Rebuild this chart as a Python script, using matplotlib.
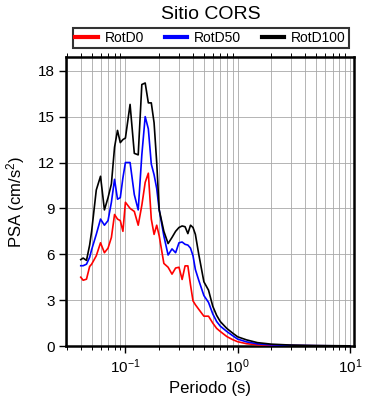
"""Response spectra (RotD0 / RotD50 / RotD100) for site CORS."""
import matplotlib
matplotlib.use('Agg')
import matplotlib.pyplot as plt
from matplotlib.ticker import LogLocator, MultipleLocator, NullFormatter

plt.rcParams['font.family'] = ['Liberation Sans', 'DejaVu Sans']
plt.rcParams['mathtext.fontset'] = 'custom'
plt.rcParams['mathtext.rm'] = 'Liberation Sans'
plt.rcParams['mathtext.it'] = 'Liberation Sans'

# periods (s)
periods = [0.04, 0.042, 0.045, 0.048, 0.05, 0.055, 0.06, 0.065, 0.07, 0.075,
           0.08, 0.085, 0.09, 0.095, 0.1, 0.11, 0.12, 0.13, 0.14, 0.15,
           0.16, 0.17, 0.18, 0.19, 0.2, 0.22, 0.24, 0.26, 0.28, 0.3,
           0.32, 0.34, 0.36, 0.38, 0.4, 0.42, 0.45, 0.5, 0.55, 0.6,
           0.65, 0.7, 0.8, 0.9, 1.0, 1.2, 1.5, 2.0, 3.0, 4.0,
           5.0, 7.0, 10.0]

rotd0 = [4.5, 4.3, 4.37, 5.2, 5.35, 5.9, 6.75, 6.1, 6.4, 7.1,
         8.6, 8.3, 8.2, 7.5, 9.4, 9.0, 8.8, 7.9, 9.2, 10.7,
         11.3, 8.3, 7.3, 7.9, 7.2, 5.4, 5.15, 4.7, 5.1, 5.15,
         4.35, 5.24, 5.24, 4.0, 2.95, 2.7, 2.4, 1.95, 1.95, 1.5,
         1.15, 0.95, 0.62, 0.42, 0.28, 0.15, 0.08, 0.05, 0.03, 0.02,
         0.015, 0.01, 0.005]

rotd50 = [5.25, 5.25, 5.35, 5.8, 6.3, 7.3, 8.3, 7.9, 8.2, 9.4,
          10.9, 9.6, 9.7, 11.0, 12.0, 12.0, 9.9, 8.9, 12.5, 15.0,
          14.2, 11.9, 11.2, 10.3, 8.9, 7.2, 5.95, 6.35, 6.1, 6.75,
          6.8, 6.65, 6.6, 6.4, 5.9, 5.0, 4.3, 3.3, 2.85, 2.1,
          1.6, 1.3, 0.95, 0.68, 0.45, 0.27, 0.14, 0.07, 0.04, 0.03,
          0.02, 0.012, 0.008]

rotd100 = [5.65, 5.75, 5.6, 6.6, 7.5, 10.2, 11.1, 8.9, 9.7, 10.6,
           13.0, 14.1, 13.3, 13.5, 13.6, 15.8, 12.6, 12.5, 17.1, 17.2,
           15.9, 15.9, 14.6, 12.0, 8.9, 7.5, 6.7, 7.1, 7.5, 7.75,
           7.85, 7.8, 7.35, 7.9, 7.75, 7.3, 6.0, 4.2, 3.65, 2.6,
           2.0, 1.6, 1.15, 0.85, 0.6, 0.4, 0.22, 0.12, 0.06, 0.04,
           0.03, 0.02, 0.01]

fig = plt.figure(figsize=(3.9, 4.0), dpi=100)
ax = fig.add_axes([0.169, 0.135, 0.739, 0.7225])

ax.plot(periods, rotd0, color='#ff0000', lw=1.2, label='RotD0', zorder=3)
ax.plot(periods, rotd50, color='#0000ff', lw=1.2, label='RotD50', zorder=3)
ax.plot(periods, rotd100, color='#000000', lw=1.2, label='RotD100', zorder=3)

ax.set_xscale('log')
ax.set_xlim(0.0295, 10.9)
ax.set_ylim(0, 18.9)

ax.xaxis.set_major_locator(LogLocator(base=10, numticks=10))
ax.xaxis.set_minor_locator(LogLocator(base=10, subs=range(2, 10), numticks=20))
ax.xaxis.set_minor_formatter(NullFormatter())
ax.yaxis.set_major_locator(MultipleLocator(3))

ax.grid(True, which='both', axis='x', color='#a8a8a8', lw=0.6, zorder=0)
ax.grid(True, which='major', axis='y', color='#a8a8a8', lw=0.6, zorder=0)

for s in ax.spines.values():
    s.set_linewidth(1.8)

ax.tick_params(which='major', direction='out', length=5, width=1,
               top=True, right=False, labelsize=11, pad=3)
ax.tick_params(which='minor', direction='out', length=3, width=0.7,
               top=True, right=False)
ax.tick_params(axis='x', which='major', top=False)

ax.set_xlabel('Periodo (s)', fontsize=12, labelpad=4)
ax.set_ylabel('PSA (cm/s$^2$)', fontsize=12, labelpad=8)

fig.text(0.54, 0.963, 'Sitio CORS', ha='center', va='center', fontsize=14)

leg = fig.legend(loc='center', bbox_to_anchor=(0.54, 0.905), ncol=3,
                 fontsize=10, frameon=True, fancybox=False,
                 handlelength=1.6, handletextpad=0.5, columnspacing=1.5,
                 borderpad=0.2, borderaxespad=0)
leg.get_frame().set_edgecolor('black')
leg.get_frame().set_linewidth(1.5)
for line in leg.get_lines():
    line.set_linewidth(3)

fig.savefig('out.png', dpi=100, facecolor='white')
